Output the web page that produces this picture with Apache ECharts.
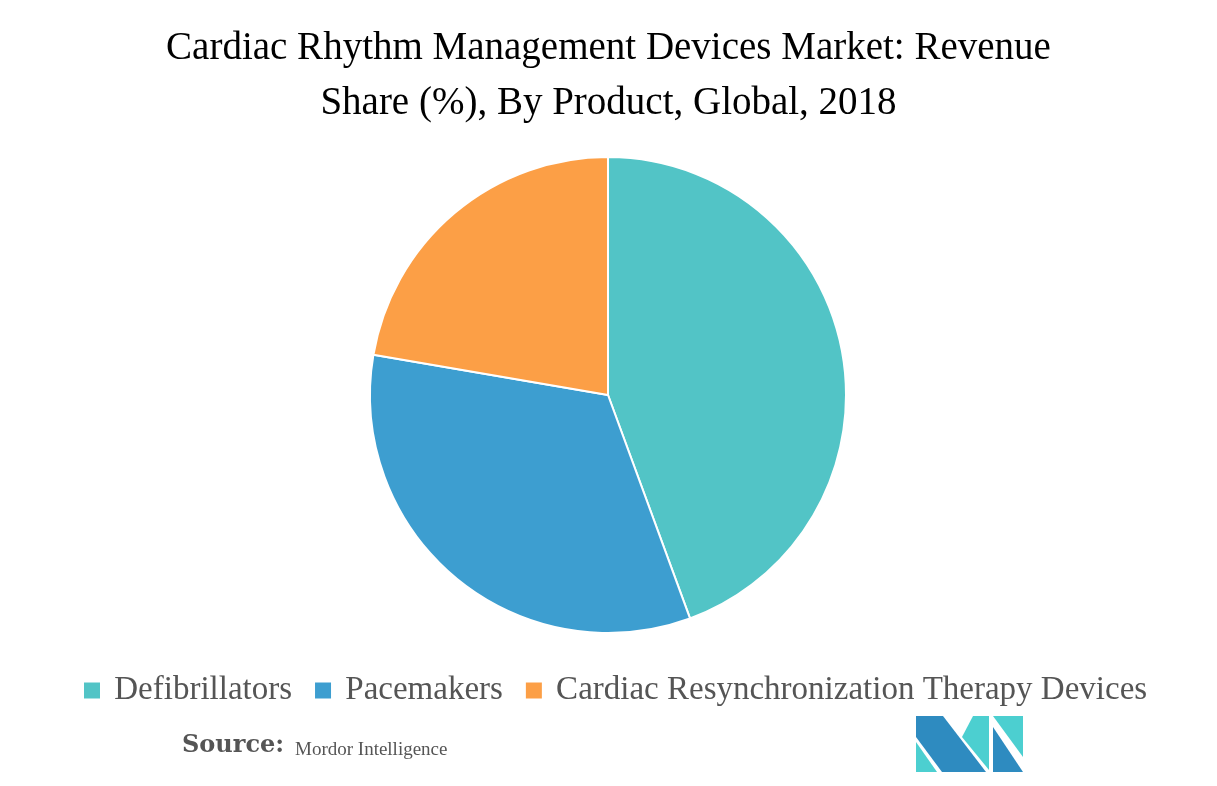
<!DOCTYPE html>
<html><head><meta charset="utf-8">
<script src="https://cdn.jsdelivr.net/npm/echarts@6/dist/echarts.min.js"></script>
<style>html,body{margin:0;padding:0;background:#fff}#c{width:1217px;height:786px}</style>
</head><body><div id="c"></div>
<script>
const titleLines = ["Cardiac Rhythm Management Devices Market: Revenue", "Share (%), By Product, Global, 2018"];
const categories = ["Defibrillators", "Pacemakers", "Cardiac Resynchronization Therapy Devices"];
const shares = [44.4, 33.3, 22.3];
const colors = ["#52C4C6", "#3D9ED0", "#FC9F46"];

const chart = echarts.init(document.getElementById('c'));
chart.setOption({
  animation: false,
  backgroundColor: '#fff',
  color: colors,
  legend: {
    data: categories,
    left: 82, top: 674, padding: 0,
    icon: 'rect', itemWidth: 18, itemHeight: 18, itemGap: 21,
    formatter: n => ' ' + n,
    textStyle: { fontFamily: 'Liberation Serif', fontSize: 33, color: '#555' }
  },
  graphic: [
    { type: 'text', left: 'center', top: 29, style: { text: titleLines[0], font: '39px "Liberation Serif"', fill: '#000' } },
    { type: 'text', left: 'center', top: 84, style: { text: titleLines[1], font: '39px "Liberation Serif"', fill: '#000' } },
    { type: 'text', left: 182, top: 734, style: { text: 'Source:', font: 'bold 24px "DejaVu Serif"', fill: '#555' } },
    { type: 'text', left: 295, top: 741, style: { text: 'Mordor Intelligence', font: '19px "Liberation Serif"', fill: '#555' } },
    { type: 'polygon', shape: { points: [[916,716],[943,716],[986,772],[942,772],[916,737]] }, style: { fill: '#2E8BC0' } },
    { type: 'polygon', shape: { points: [[916,742],[937,772],[916,772]] }, style: { fill: '#4CCFD0' } },
    { type: 'polygon', shape: { points: [[973,716],[989,716],[989,770],[962,737]] }, style: { fill: '#4CCFD0' } },
    { type: 'polygon', shape: { points: [[993,716],[1023,716],[1023,757]] }, style: { fill: '#4CCFD0' } },
    { type: 'polygon', shape: { points: [[993,727],[1023,772],[993,772]] }, style: { fill: '#2E8BC0' } }
  ],
  series: [{
    type: 'pie',
    center: [608, 395],
    radius: 238,
    startAngle: 90,
    clockwise: true,
    label: { show: false },
    labelLine: { show: false },
    itemStyle: { borderColor: '#fff', borderWidth: 2 },
    data: categories.map((n, i) => ({ name: n, value: shares[i] }))
  }]
});
</script></body></html>
